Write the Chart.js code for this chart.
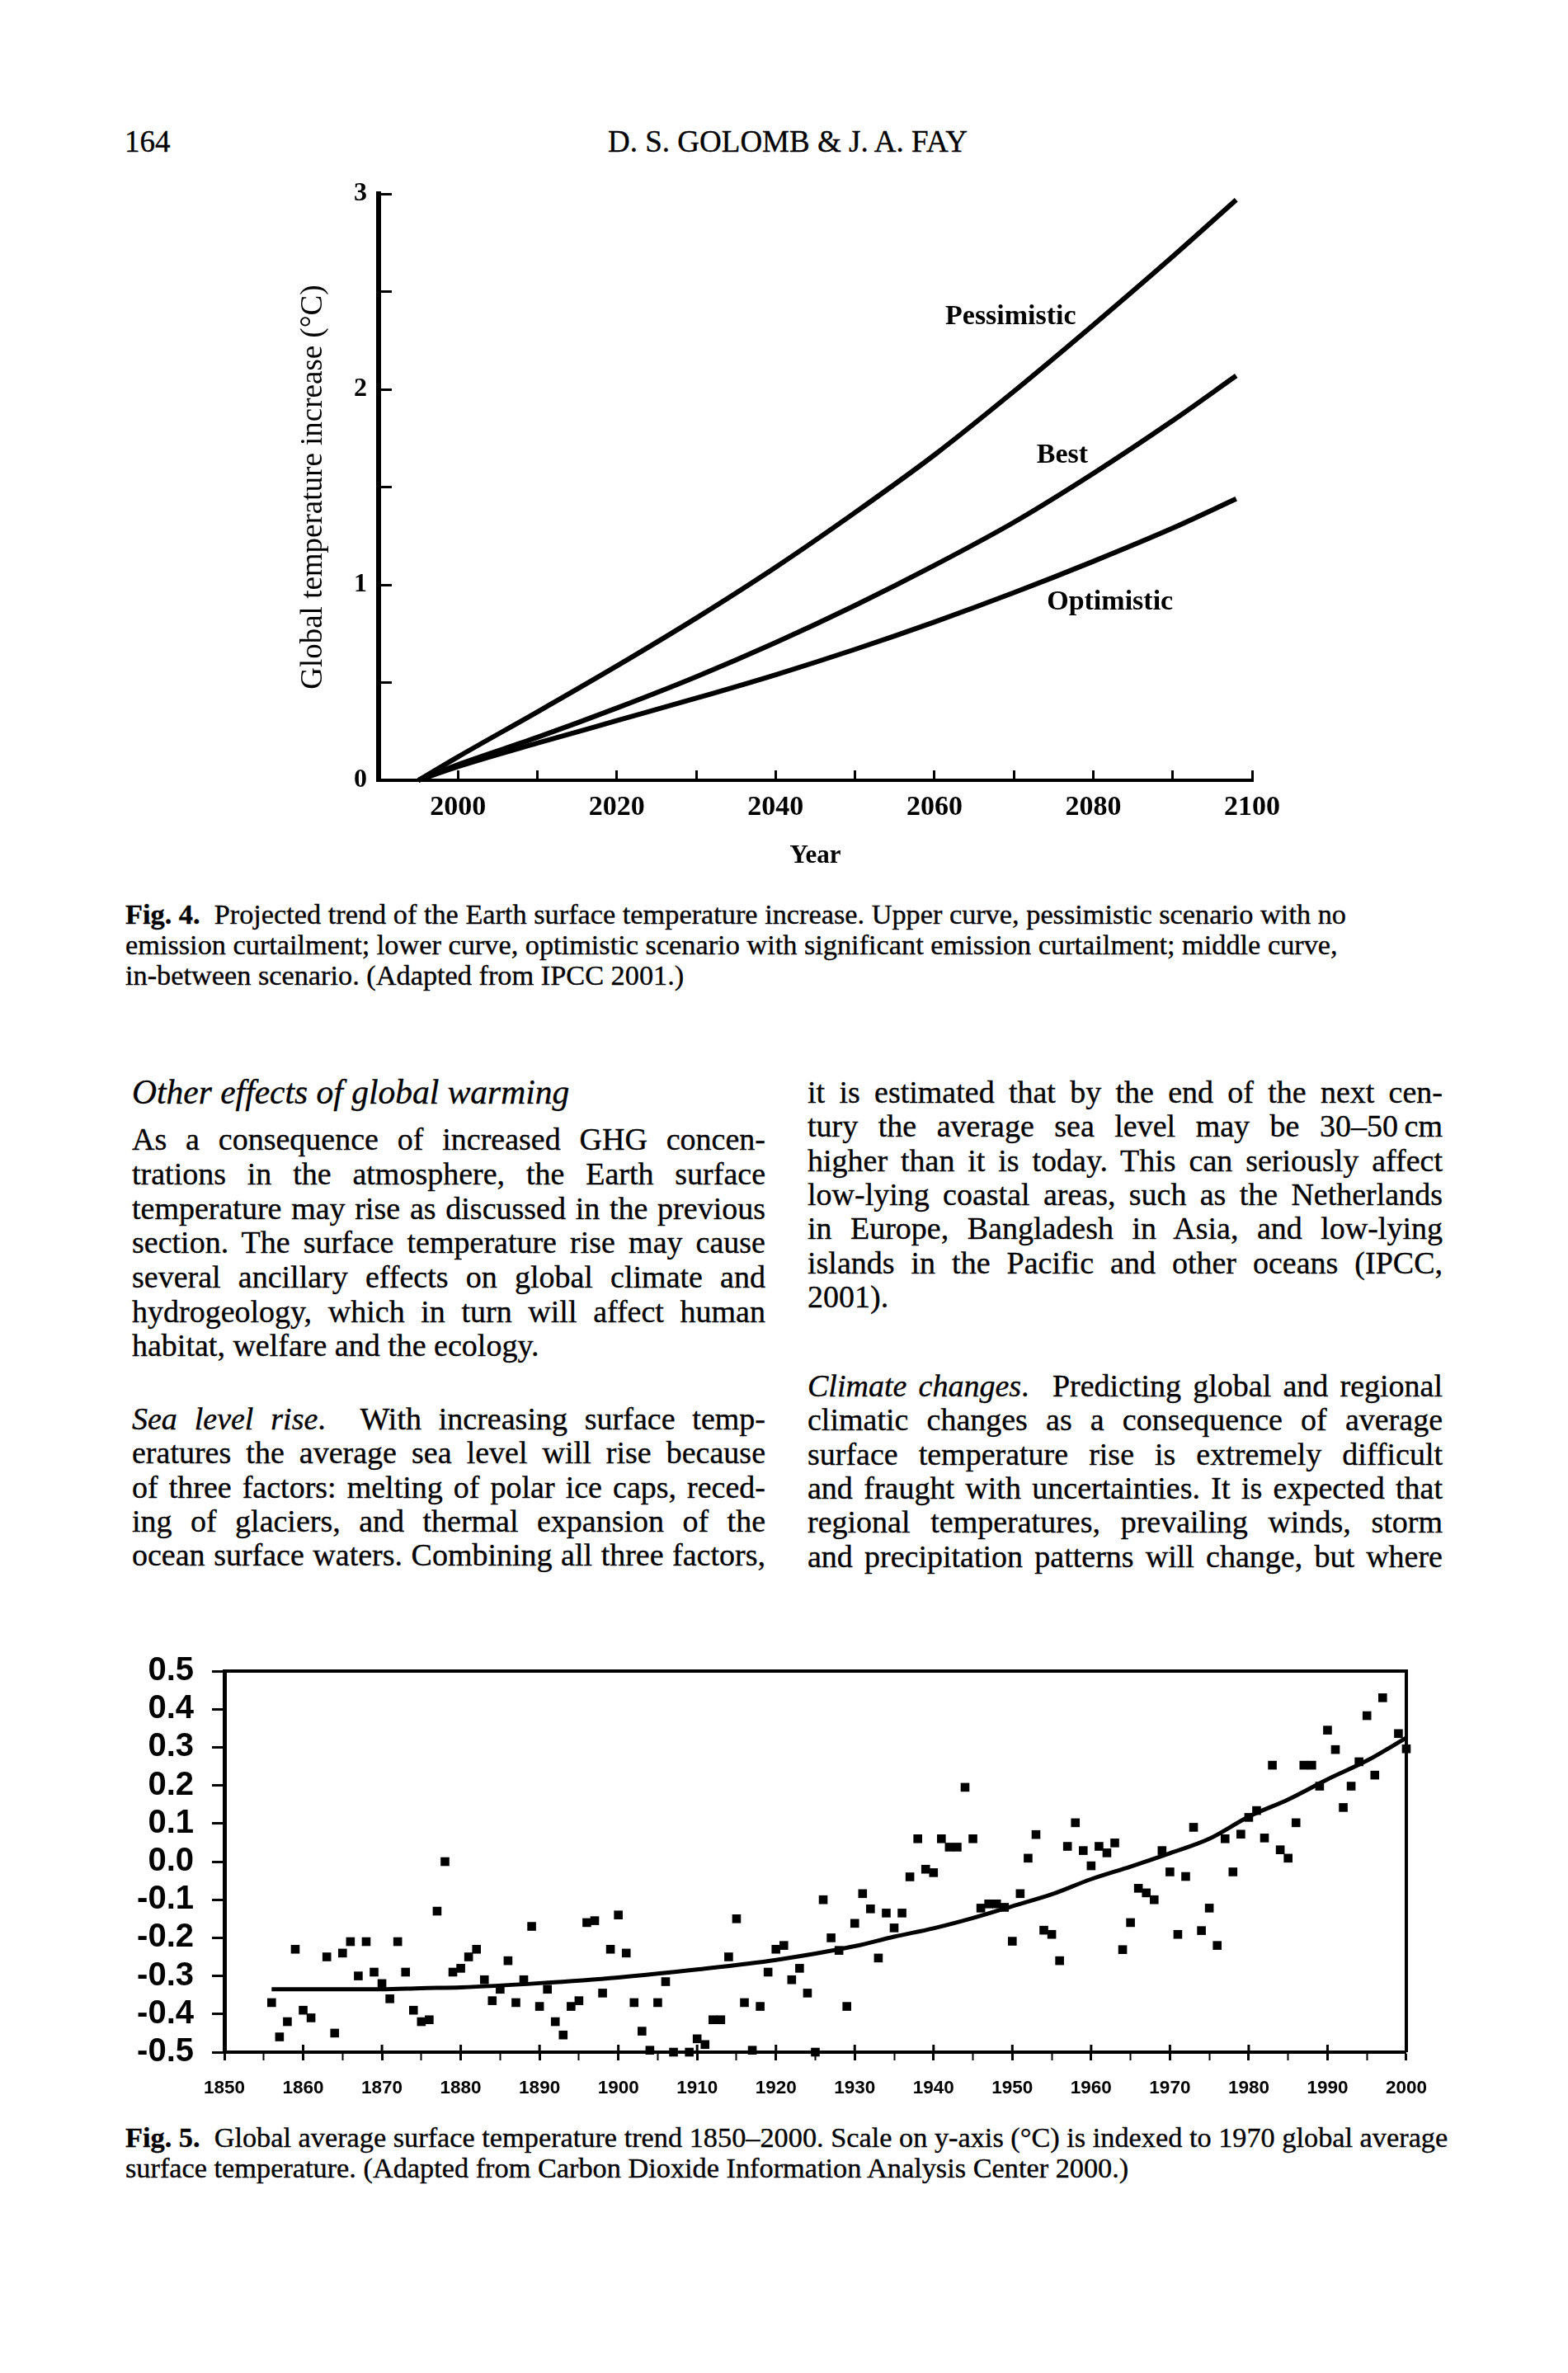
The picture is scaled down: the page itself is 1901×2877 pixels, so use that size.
<!DOCTYPE html>
<html>
<head>
<meta charset="utf-8">
<script src="https://cdn.jsdelivr.net/npm/chart.js@4.4.1/dist/chart.umd.min.js"></script>
<style>
  body { margin: 0; background: #fff; color: #000; font-family: "Liberation Serif", "Times New Roman", serif; }
  #page { position: relative; width: 1901px; height: 2877px; overflow: hidden; background: #fff; }
  .t { position: absolute; white-space: nowrap; -webkit-text-stroke: 0.35px #000; }
  .hd { font-size: 37px; line-height: 40px; }
  .cap { font-size: 34.3px; line-height: 37px; left: 152px; }
  .ln { position: absolute; white-space: nowrap; font-size: 38px; line-height: 40px; height: 40px;
        text-align: justify; text-align-last: justify; -webkit-text-stroke: 0.35px #000; }
  .l { left: 160px; width: 768px; }
  .r { left: 979px; width: 770px; }
  .last { text-align: left; text-align-last: left; }
  .sec { font-size: 41.5px; }
  canvas { position: absolute; }
</style>
</head>
<body>
<div id="page">
  <div class="t hd" style="left:151px; top:152px;">164</div>
  <div class="t hd" style="left:0; width:1910px; text-align:center; top:152px;">D. S. GOLOMB &amp; J. A. FAY</div>

  <canvas id="fig4" width="1300" height="880" style="left:300px; top:186px; width:1300px; height:880px;"></canvas>

  <div class="t cap" style="top:1090px;"><b>Fig. 4.</b>&nbsp; Projected trend of the Earth surface temperature increase. Upper curve, pessimistic scenario with no</div>
  <div class="t cap" style="top:1127px;">emission curtailment; lower curve, optimistic scenario with significant emission curtailment; middle curve,</div>
  <div class="t cap" style="top:1164px;">in-between scenario. (Adapted from IPCC 2001.)</div>

  <div class="ln l last sec" style="top:1304px;"><i>Other effects of global warming</i></div>
  <div class="ln l" style="top:1361px;">As a consequence of increased GHG concen-</div>
  <div class="ln l" style="top:1403px;">trations in the atmosphere, the Earth surface</div>
  <div class="ln l" style="top:1445px;">temperature may rise as discussed in the previous</div>
  <div class="ln l" style="top:1486px;">section. The surface temperature rise may cause</div>
  <div class="ln l" style="top:1528px;">several ancillary effects on global climate and</div>
  <div class="ln l" style="top:1570px;">hydrogeology, which in turn will affect human</div>
  <div class="ln l last" style="top:1611px;">habitat, welfare and the ecology.</div>
  <div class="ln l" style="top:1700px;"><i>Sea level rise</i>. &nbsp;With increasing surface temp-</div>
  <div class="ln l" style="top:1741px;">eratures the average sea level will rise because</div>
  <div class="ln l" style="top:1783px;">of three factors: melting of polar ice caps, reced-</div>
  <div class="ln l" style="top:1824px;">ing of glaciers, and thermal expansion of the</div>
  <div class="ln l" style="top:1865px;">ocean surface waters. Combining all three factors,</div>

  <div class="ln r" style="top:1304px;">it is estimated that by the end of the next cen-</div>
  <div class="ln r" style="top:1345px;">tury the average sea level may be 30–50&#8239;cm</div>
  <div class="ln r" style="top:1387px;">higher than it is today. This can seriously affect</div>
  <div class="ln r" style="top:1428px;">low-lying coastal areas, such as the Netherlands</div>
  <div class="ln r" style="top:1469px;">in Europe, Bangladesh in Asia, and low-lying</div>
  <div class="ln r" style="top:1511px;">islands in the Pacific and other oceans (IPCC,</div>
  <div class="ln r last" style="top:1552px;">2001).</div>
  <div class="ln r" style="top:1660px;"><i>Climate changes</i>. &nbsp;Predicting global and regional</div>
  <div class="ln r" style="top:1701px;">climatic changes as a consequence of average</div>
  <div class="ln r" style="top:1743px;">surface temperature rise is extremely difficult</div>
  <div class="ln r" style="top:1784px;">and fraught with uncertainties. It is expected that</div>
  <div class="ln r" style="top:1825px;">regional temperatures, prevailing winds, storm</div>
  <div class="ln r" style="top:1867px;">and precipitation patterns will change, but where</div>

  <canvas id="fig5" width="1600" height="590" style="left:150px; top:1980px; width:1600px; height:590px;"></canvas>

  <div class="t cap" style="top:2573px;"><b>Fig. 5.</b>&nbsp; Global average surface temperature trend 1850–2000. Scale on y-axis (°C) is indexed to 1970 global average</div>
  <div class="t cap" style="top:2610px;">surface temperature. (Adapted from Carbon Dioxide Information Analysis Center 2000.)</div>
</div>

<script>
// Fig. 4 – projected temperature increase
const scenYears = [1995, 2000, 2010, 2020, 2030, 2040, 2050, 2060, 2070, 2080, 2090, 2098];
const pessimistic = [0, 0.12, 0.35, 0.585, 0.83, 1.09, 1.37, 1.665, 1.99, 2.33, 2.68, 2.97];
const bestGuess = [0, 0.08, 0.22, 0.37, 0.53, 0.705, 0.895, 1.10, 1.32, 1.57, 1.84, 2.07];
const optimistic = [0, 0.07, 0.19, 0.305, 0.42, 0.54, 0.67, 0.81, 0.96, 1.12, 1.29, 1.44];
const scenNames = ['Pessimistic', 'Best', 'Optimistic'];
const scenLabelYear = [2069.6, 2076.1, 2082.1];
const scenLabelTemp = [2.37, 1.66, 0.91];

// Fig. 5 – observed global temperature 1856-2000
const obsYears = [1856, 1857, 1858, 1859, 1860, 1861, 1863, 1864, 1865, 1866, 1867, 1868, 1869, 1870,
  1871, 1872, 1873, 1874, 1875, 1876, 1877, 1878, 1879, 1880, 1881, 1882, 1883, 1884, 1885, 1886,
  1887, 1888, 1889, 1890, 1891, 1892, 1893, 1894, 1895, 1896, 1897, 1898, 1899, 1900, 1901, 1902,
  1903, 1904, 1905, 1906, 1907, 1909, 1910, 1911, 1912, 1913, 1914, 1915, 1916, 1917, 1918, 1919,
  1920, 1921, 1922, 1923, 1924, 1925, 1926, 1927, 1928, 1929, 1930, 1931, 1932, 1933, 1934, 1935,
  1936, 1937, 1938, 1939, 1940, 1941, 1942, 1943, 1944, 1945, 1946, 1947, 1948, 1949, 1950, 1951,
  1952, 1953, 1954, 1955, 1956, 1957, 1958, 1959, 1960, 1961, 1962, 1963, 1964, 1965, 1966, 1967,
  1968, 1969, 1970, 1971, 1972, 1973, 1974, 1975, 1976, 1977, 1978, 1979, 1980, 1981, 1982, 1983,
  1984, 1985, 1986, 1987, 1988, 1989, 1990, 1991, 1992, 1993, 1994, 1995, 1996, 1997, 1999, 2000];
const obsTemps = [-0.37, -0.46, -0.42, -0.23, -0.39, -0.41, -0.25, -0.45, -0.24, -0.21, -0.30, -0.21, -0.29, -0.32,
  -0.36, -0.21, -0.29, -0.39, -0.42, -0.415, -0.13, 0.00, -0.29, -0.28, -0.25, -0.23, -0.31, -0.365, -0.335, -0.26,
  -0.37, -0.31, -0.17, -0.38, -0.335, -0.42, -0.455, -0.38, -0.365, -0.16, -0.155, -0.345, -0.23, -0.14, -0.24, -0.37,
  -0.445, -0.495, -0.37, -0.315, -0.50, -0.50, -0.465, -0.48, -0.415, -0.415, -0.25, -0.15, -0.37, -0.495, -0.38, -0.29,
  -0.23, -0.22, -0.31, -0.28, -0.345, -0.50, -0.10, -0.20, -0.233, -0.38, -0.162, -0.084, -0.124, -0.253, -0.135, -0.174,
  -0.135, -0.04, 0.06, -0.02, -0.029, 0.06, 0.038, 0.038, 0.195, 0.06, -0.122, -0.111, -0.111, -0.12, -0.209, -0.084,
  0.009, 0.071, -0.18, -0.191, -0.26, 0.04, 0.102, 0.029, -0.011, 0.04, 0.023, 0.049, -0.231, -0.16, -0.07, -0.082,
  -0.10, 0.029, -0.027, -0.191, -0.039, 0.09, -0.181, -0.122, -0.22, 0.06, -0.027, 0.072, 0.116, 0.134, 0.062, 0.253,
  0.031, 0.009, 0.102, 0.253, 0.253, 0.198, 0.345, 0.294, 0.142, 0.198, 0.262, 0.383, 0.227, 0.43, 0.336, 0.296];
const trendYears = [1856, 1860, 1870, 1875, 1880, 1890, 1900, 1910, 1920, 1930, 1935, 1940, 1945, 1950, 1955, 1960,
  1965, 1970, 1975, 1980, 1985, 1990, 1995, 2000];
const trendTemps = [-0.335, -0.335, -0.335, -0.332, -0.33, -0.319, -0.304, -0.283, -0.258, -0.222, -0.197, -0.175,
  -0.148, -0.117, -0.086, -0.046, -0.013, 0.022, 0.06, 0.118, 0.163, 0.216, 0.265, 0.325];

const serif = '"Liberation Serif", "Times New Roman", serif';
const sans = '"Liberation Sans", Arial, sans-serif';
const black = '#000';

function pts(xs, ys) {
  return xs.map((x, i) => ({ x: x, y: ys[i] }));
}

const curveLabels = {
  id: 'curveLabels',
  afterDatasetsDraw(chart) {
    const { ctx, scales: { x, y } } = chart;
    ctx.save();
    ctx.font = 'bold 34px ' + serif;
    ctx.fillStyle = black;
    ctx.textAlign = 'center';
    ctx.textBaseline = 'middle';
    scenNames.forEach((n, i) => {
      ctx.fillText(n, x.getPixelForValue(scenLabelYear[i]), y.getPixelForValue(scenLabelTemp[i]));
    });
    ctx.restore();
  }
};

new Chart(document.getElementById('fig4'), {
  type: 'line',
  data: {
    datasets: [pessimistic, bestGuess, optimistic].map((v, i) => ({
      label: scenNames[i],
      data: pts(scenYears, v),
      borderColor: black,
      borderWidth: 6,
      pointRadius: 0,
      cubicInterpolationMode: 'monotone',
      clip: false
    }))
  },
  options: {
    responsive: false,
    animation: false,
    devicePixelRatio: 1,
    layout: { padding: { top: 38, right: 82, left: 0, bottom: 0 } },
    plugins: { legend: { display: false }, tooltip: { enabled: false } },
    scales: {
      x: {
        type: 'linear', min: 1990, max: 2100,
        afterFit: s => { s.height = 120; },
        ticks: {
          stepSize: 10, autoSkip: false, maxRotation: 0, padding: 25, color: black,
          font: { family: serif, size: 34, weight: 'bold' },
          callback: v => (v % 20 === 0 ? v : '')
        },
        grid: { drawOnChartArea: false, tickLength: -12, tickWidth: 3, tickColor: black },
        border: { color: black, width: 4 },
        title: { display: true, text: 'Year', color: black, font: { family: serif, size: 31, weight: 'bold' },
                 padding: { top: 0, bottom: 9 } }
      },
      y: {
        min: 0, max: 3,
        afterFit: s => { s.width = 159; },
        ticks: {
          stepSize: 0.5, autoSkip: false, padding: 30, color: black,
          font: { family: serif, size: 32, weight: 'bold' },
          callback: v => (Number.isInteger(v) ? v : '')
        },
        grid: { drawOnChartArea: false, tickLength: -16, tickWidth: 3, tickColor: black },
        border: { color: black, width: 6 },
        title: { display: true, text: 'Global temperature increase (°C)', color: black,
                 font: { family: serif, size: 37 }, padding: { top: 58, bottom: 0 } }
      }
    }
  },
  plugins: [curveLabels]
});

// box round the plot and the inner half of the decade ticks
const frame = {
  id: 'frame',
  afterDraw(chart) {
    const { ctx, chartArea: a, scales: { x } } = chart;
    ctx.save();
    ctx.strokeStyle = black;
    ctx.lineWidth = 4;
    ctx.beginPath();
    ctx.moveTo(a.left, a.top);
    ctx.lineTo(a.right, a.top);
    ctx.lineTo(a.right, a.bottom);
    ctx.stroke();
    ctx.lineWidth = 3;
    x.ticks.forEach(t => {
      if (t.value % 10 !== 0) return;
      const px = x.getPixelForValue(t.value);
      ctx.beginPath();
      ctx.moveTo(px, a.bottom);
      ctx.lineTo(px, a.bottom - 9);
      ctx.stroke();
    });
    ctx.restore();
  }
};

new Chart(document.getElementById('fig5'), {
  type: 'scatter',
  data: {
    datasets: [
      {
        label: 'annual',
        data: pts(obsYears, obsTemps),
        pointStyle: 'rect',
        pointRadius: 7.5,
        backgroundColor: black,
        borderWidth: 0,
        clip: 10
      },
      {
        label: 'trend',
        data: pts(trendYears, trendTemps),
        showLine: true,
        pointRadius: 0,
        borderColor: black,
        borderWidth: 5,
        cubicInterpolationMode: 'monotone'
      }
    ]
  },
  options: {
    responsive: false,
    animation: false,
    devicePixelRatio: 1,
    layout: { padding: { top: 23, right: 42, left: 0, bottom: 0 } },
    plugins: { legend: { display: false }, tooltip: { enabled: false } },
    scales: {
      x: {
        type: 'linear', min: 1850, max: 2000,
        afterFit: s => { s.height = 82; },
        ticks: {
          stepSize: 5, autoSkip: false, maxRotation: 0, padding: 20, color: black,
          font: { family: sans, size: 22.5, weight: 'bold' },
          callback: v => (v % 10 === 0 ? v : '')
        },
        grid: {
          drawOnChartArea: false, tickLength: 10, tickColor: black,
          tickWidth: c => (c.tick && c.tick.value % 10 === 0 ? 3 : 2)
        },
        border: { color: black, width: 4 }
      },
      y: {
        min: -0.5, max: 0.5,
        afterFit: s => { s.width = 122; },
        ticks: {
          stepSize: 0.1, autoSkip: false, padding: 22, color: black,
          font: { family: sans, size: 40, weight: 'bold' },
          callback: v => (Math.abs(v) < 1e-9 ? 0 : v).toFixed(1)
        },
        grid: { drawOnChartArea: false, tickLength: 15, tickWidth: 3, tickColor: black },
        border: { color: black, width: 5 }
      }
    }
  },
  plugins: [frame]
});
</script>
</body>
</html>
